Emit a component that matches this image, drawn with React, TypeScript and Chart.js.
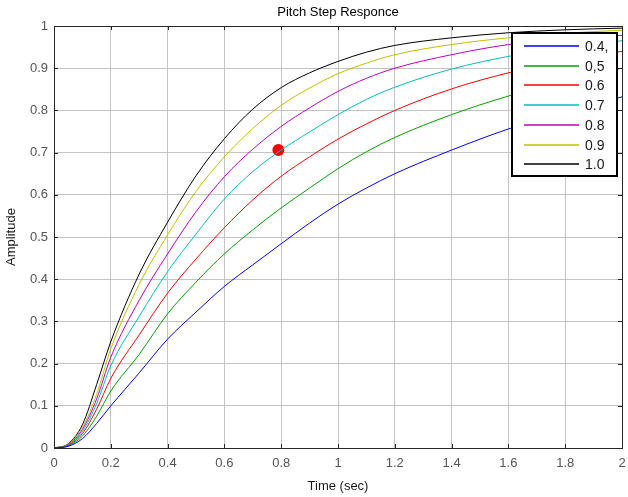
import React, { useEffect, useRef } from "react";
import { Chart, registerables } from "chart.js";

Chart.register(...registerables);

// Simulated pitch step responses for several gain settings
const timeSec = [0, 0.05, 0.1, 0.15, 0.2, 0.3, 0.4, 0.5, 0.6, 0.7, 0.8, 0.9, 1.0, 1.1, 1.2, 1.4, 1.6, 1.8, 2.0];

const resp04 = [0, 0.004, 0.022, 0.058, 0.1, 0.178, 0.258, 0.322, 0.383, 0.434, 0.484, 0.533, 0.578, 0.616, 0.65, 0.706, 0.756, 0.797, 0.832];
const resp05 = [0, 0.005, 0.028, 0.075, 0.135, 0.222, 0.318, 0.393, 0.46, 0.517, 0.569, 0.616, 0.662, 0.702, 0.736, 0.79, 0.834, 0.87, 0.9];
const resp06 = [0, 0.006, 0.034, 0.092, 0.165, 0.268, 0.367, 0.448, 0.522, 0.588, 0.644, 0.69, 0.732, 0.768, 0.8, 0.851, 0.889, 0.918, 0.94];
const resp07 = [0, 0.007, 0.039, 0.105, 0.195, 0.312, 0.418, 0.507, 0.59, 0.655, 0.706, 0.749, 0.79, 0.826, 0.855, 0.898, 0.928, 0.95, 0.965];
const resp08 = [0, 0.008, 0.044, 0.116, 0.215, 0.35, 0.46, 0.56, 0.643, 0.708, 0.762, 0.806, 0.845, 0.876, 0.9, 0.932, 0.956, 0.97, 0.978];
const resp09 = [0, 0.009, 0.049, 0.127, 0.235, 0.388, 0.505, 0.608, 0.69, 0.757, 0.812, 0.853, 0.887, 0.912, 0.932, 0.956, 0.972, 0.983, 0.99];
const resp10 = [0, 0.01, 0.055, 0.15, 0.252, 0.412, 0.535, 0.645, 0.733, 0.803, 0.854, 0.889, 0.916, 0.938, 0.954, 0.972, 0.984, 0.991, 0.995];

const seriesLabels = ["0.4,", "0,5", "0.6", "0.7", "0.8", "0.9", "1.0"];
const seriesValues = [resp04, resp05, resp06, resp07, resp08, resp09, resp10];
const seriesColors = ["#0000ff", "#00a000", "#ff0000", "#00bfbf", "#bf00bf", "#bfbf00", "#000000"];

// Highlighted operating point
const markerPoint = { x: 0.79, y: 0.706 };

const FONT = "'Liberation Sans', Arial, sans-serif";

const formatTick = (v: number | string) => String(Number(Number(v).toFixed(1)));

const frameAndTicks = {
  id: "frameAndTicks",
  afterDatasetsDraw(chart: any) {
    const { ctx, chartArea: a, scales } = chart;
    ctx.save();
    ctx.strokeStyle = "#262626";
    ctx.lineWidth = 1;
    const len = 4;
    ctx.beginPath();
    scales.x.ticks.forEach((t: any) => {
      const px = Math.round(scales.x.getPixelForValue(t.value)) + 0.5;
      ctx.moveTo(px, a.bottom);
      ctx.lineTo(px, a.bottom - len);
      ctx.moveTo(px, a.top);
      ctx.lineTo(px, a.top + len);
    });
    scales.y.ticks.forEach((t: any) => {
      const py = Math.round(scales.y.getPixelForValue(t.value)) + 0.5;
      ctx.moveTo(a.left, py);
      ctx.lineTo(a.left + len, py);
      ctx.moveTo(a.right, py);
      ctx.lineTo(a.right - len, py);
    });
    ctx.stroke();
    ctx.strokeRect(Math.round(a.left) + 0.5, Math.round(a.top) + 0.5, Math.round(a.right - a.left), Math.round(a.bottom - a.top));
    ctx.restore();
  },
};

const boxedLegend = {
  id: "boxedLegend",
  afterDraw(chart: any) {
    const { ctx, chartArea: a } = chart;
    const w = 105;
    const h = 143;
    const x0 = a.right - 5 - w;
    const y0 = a.top + 7;
    ctx.save();
    ctx.fillStyle = "#ffffff";
    ctx.fillRect(x0, y0, w, h);
    ctx.strokeStyle = "#000000";
    ctx.lineWidth = 2;
    ctx.strokeRect(x0, y0, w, h);
    ctx.font = `14px ${FONT}`;
    ctx.textBaseline = "middle";
    ctx.textAlign = "left";
    seriesLabels.forEach((label, i) => {
      const y = Math.round(y0 + 13 + i * 19.7);
      ctx.strokeStyle = seriesColors[i];
      ctx.lineWidth = 1.5;
      ctx.beginPath();
      ctx.moveTo(x0 + 12, y);
      ctx.lineTo(x0 + 67, y);
      ctx.stroke();
      ctx.fillStyle = "#1a1a1a";
      ctx.fillText(label, x0 + 73, y + 1);
    });
    ctx.restore();
  },
};

const plotTitle = {
  id: "plotTitle",
  afterDraw(chart: any) {
    const { ctx, chartArea: a } = chart;
    ctx.save();
    ctx.font = `13px ${FONT}`;
    ctx.fillStyle = "#000000";
    ctx.textAlign = "center";
    ctx.textBaseline = "middle";
    ctx.fillText("Pitch Step Responce", (a.left + a.right) / 2, 12);
    ctx.restore();
  },
};

export default function App() {
  const canvasRef = useRef<HTMLCanvasElement | null>(null);

  useEffect(() => {
    if (!canvasRef.current) return;
    const datasets: any[] = seriesValues.map((vals, i) => ({
      type: "line",
      label: seriesLabels[i],
      data: timeSec.map((t, j) => ({ x: t, y: vals[j] })),
      borderColor: seriesColors[i],
      backgroundColor: seriesColors[i],
      borderWidth: 1,
      pointRadius: 0,
      cubicInterpolationMode: "monotone",
      fill: false,
    }));
    datasets.push({
      type: "scatter",
      label: "",
      data: [markerPoint],
      pointRadius: 6,
      pointBackgroundColor: "#ff0000",
      pointBorderColor: "#ff0000",
      borderWidth: 0,
    });

    const tickFont = { family: FONT, size: 13 };
    const chart = new Chart(canvasRef.current, {
      type: "line",
      data: { datasets },
      options: {
        responsive: false,
        animation: false,
        layout: { padding: { top: 26, right: 5, left: 0, bottom: 0 } },
        plugins: {
          legend: { display: false },
          tooltip: { enabled: false },
          title: { display: false },
        },
        scales: {
          x: {
            type: "linear",
            min: 0,
            max: 2,
            ticks: { stepSize: 0.2, color: "#555555", font: tickFont, padding: 8, maxRotation: 0, callback: formatTick },
            grid: { color: "#c4c4c4", drawTicks: false },
            border: { display: false },
            title: { display: true, text: "Time (sec)", color: "#1a1a1a", font: tickFont, padding: { top: 0, bottom: 3 } },
            afterFit: (s: any) => {
              s.height = 49;
              s.paddingLeft = 0;
              s.paddingRight = 0;
            },
          },
          y: {
            type: "linear",
            min: 0,
            max: 1,
            ticks: { stepSize: 0.1, color: "#555555", font: tickFont, padding: 6, callback: formatTick },
            grid: { color: "#c4c4c4", drawTicks: false },
            border: { display: false },
            title: { display: true, text: "Amplitude", color: "#1a1a1a", font: tickFont, padding: { top: 4, bottom: 0 } },
            afterFit: (s: any) => {
              s.width = 54;
              s.paddingTop = 0;
              s.paddingBottom = 0;
            },
          },
        },
      } as any,
      plugins: [frameAndTicks, boxedLegend, plotTitle],
    });
    return () => chart.destroy();
  }, []);

  return (
    <div style={{ position: "fixed", left: 0, top: 0, width: 628, height: 497, background: "#ffffff" }}>
      <canvas ref={canvasRef} width={628} height={497} style={{ display: "block" }} />
    </div>
  );
}
